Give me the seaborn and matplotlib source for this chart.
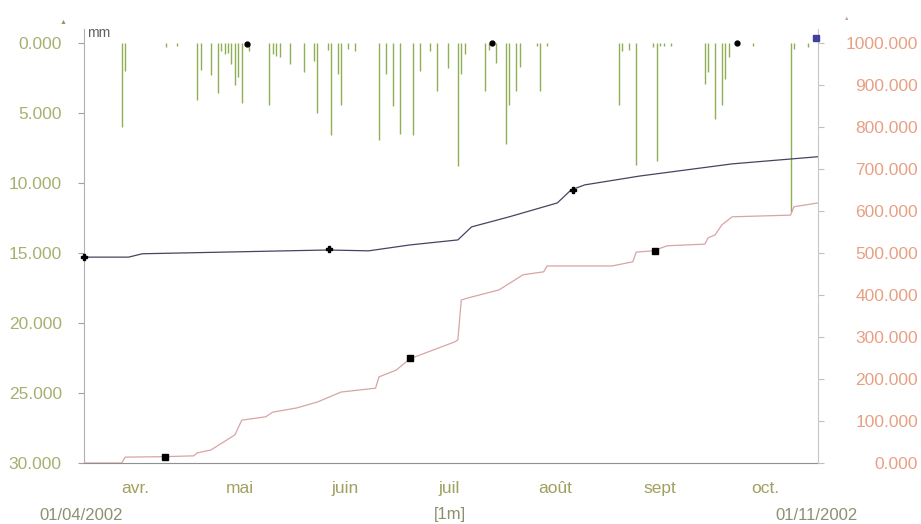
import pandas as pd
import numpy as np
import matplotlib
matplotlib.use("Agg")
import matplotlib.pyplot as plt
import matplotlib.dates as mdates
import seaborn as sns

# rain (mm), left axis, hanging from the top
rain_dates = ['2002-04-12', '2002-04-13', '2002-04-25', '2002-04-28', '2002-05-04', '2002-05-05',
              '2002-05-08', '2002-05-10', '2002-05-11', '2002-05-12', '2002-05-13', '2002-05-14',
              '2002-05-15', '2002-05-16', '2002-05-17', '2002-05-19', '2002-05-25', '2002-05-26',
              '2002-05-27', '2002-05-28', '2002-05-31', '2002-06-04', '2002-06-07', '2002-06-08',
              '2002-06-11', '2002-06-12', '2002-06-14', '2002-06-15', '2002-06-17', '2002-06-19',
              '2002-06-26', '2002-06-28', '2002-06-30', '2002-07-02', '2002-07-06', '2002-07-08',
              '2002-07-11', '2002-07-13', '2002-07-16', '2002-07-19', '2002-07-20', '2002-07-21',
              '2002-07-27', '2002-07-28', '2002-07-30', '2002-08-02', '2002-08-03', '2002-08-05',
              '2002-08-06', '2002-08-11', '2002-08-12', '2002-08-14', '2002-09-04', '2002-09-05',
              '2002-09-07', '2002-09-09', '2002-09-14', '2002-09-15', '2002-09-16', '2002-09-17',
              '2002-09-19', '2002-09-29', '2002-09-30', '2002-10-02', '2002-10-04', '2002-10-05',
              '2002-10-06', '2002-10-13', '2002-10-24', '2002-10-25', '2002-10-29']
rain_mm = [6.0, 2.0, 0.3, 0.2, 4.1, 1.9,
           2.3, 3.6, 0.6, 0.8, 0.7, 1.5,
           3.0, 2.4, 4.3, 0.6, 4.4, 0.8,
           0.9, 1.0, 1.5, 2.1, 1.3, 5.0,
           0.5, 6.6, 2.2, 4.4, 0.4, 0.6,
           6.9, 2.2, 4.5, 6.5, 6.6, 2.0,
           0.6, 3.4, 1.8, 8.8, 2.2, 0.8,
           3.4, 0.5, 1.4, 7.2, 4.4, 3.4,
           1.7, 0.2, 3.4, 0.2, 4.4, 0.6,
           0.5, 8.7, 0.3, 8.4, 0.2, 0.2,
           0.2, 2.9, 2.1, 5.4, 4.4, 2.6,
           1.0, 0.2, 12.1, 0.4, 0.3]

# first cumulative curve (right axis)
blue_dates = ['2002-04-01', '2002-04-14', '2002-04-18', '2002-06-11', '2002-06-23', '2002-07-05',
              '2002-07-19', '2002-07-23', '2002-08-03', '2002-08-17', '2002-08-21', '2002-08-25',
              '2002-09-10', '2002-10-07', '2002-11-01']
blue_vals = [490, 490, 498, 507, 505, 519, 531, 562, 586, 619, 650, 662, 683, 712, 729]

# second cumulative curve (right axis)
red_dates = ['2002-04-01', '2002-04-12', '2002-04-13', '2002-04-24', '2002-05-03', '2002-05-04',
             '2002-05-08', '2002-05-15', '2002-05-17', '2002-05-24', '2002-05-26', '2002-06-02',
             '2002-06-08', '2002-06-15', '2002-06-25', '2002-06-26', '2002-07-01', '2002-07-05',
             '2002-07-18', '2002-07-19', '2002-07-20', '2002-07-22', '2002-07-31', '2002-08-07',
             '2002-08-13', '2002-08-14', '2002-09-02', '2002-09-08', '2002-09-09', '2002-09-14',
             '2002-09-18', '2002-09-29', '2002-09-30', '2002-10-02', '2002-10-04', '2002-10-07',
             '2002-10-24', '2002-10-25', '2002-11-01']
red_vals = [0, 0, 14, 15, 17, 24, 31, 67, 102, 110, 121, 131,
            145, 169, 178, 205, 221, 248, 288, 293, 388, 393, 412, 448,
            455, 469, 469, 479, 502, 505, 517, 521, 536, 543, 567, 586,
            590, 610, 619]

# series markers
blue_mark_dates = ['2002-04-01 00:00', '2002-06-11 10:00', '2002-08-21 14:00']
blue_mark_vals = [490, 510, 650]
red_mark_dates = ['2002-04-24 14:00', '2002-07-05 00:00', '2002-09-14 12:00']
red_mark_vals = [14, 250, 505]
rain_mark_dates = ['2002-05-18 12:00', '2002-07-29 00:00', '2002-10-08 10:00']
rain_mark_vals = [0.1, 0.0, 0.0]
flag_date = ['2002-10-31 12:00']
flag_val = [1012]

month_starts = ['2002-04-01', '2002-05-01', '2002-06-01', '2002-07-01', '2002-08-01',
                '2002-09-01', '2002-10-01', '2002-11-01']
month_labels = ['avr.', 'mai', 'juin', 'juil', 'août', 'sept', 'oct.']
left_ticks = [0, 5, 10, 15, 20, 25, 30]
right_ticks = [0, 100, 200, 300, 400, 500, 600, 700, 800, 900, 1000]

sns.set_style("white")
plt.rcParams['font.family'] = ['Liberation Sans', 'DejaVu Sans']

fig = plt.figure(figsize=(9.21, 5.24), dpi=100)
ax = fig.add_axes([84 / 921, 61 / 524, 734 / 921, 434 / 524])
ax2 = ax.twinx()

rain = pd.DataFrame({'date': pd.to_datetime(rain_dates), 'mm': rain_mm})
blue = pd.DataFrame({'date': pd.to_datetime(blue_dates), 'val': blue_vals})
red = pd.DataFrame({'date': pd.to_datetime(red_dates), 'val': red_vals})
fmt = '%Y-%m-%d %H:%M'

ax.vlines(rain['date'], 0, rain['mm'], color='#8fae55', lw=1.0)
ax.plot(pd.to_datetime(rain_mark_dates, format=fmt), rain_mark_vals, 'o', color='black', ms=3.5, clip_on=False)

sns.lineplot(data=red, x='date', y='val', ax=ax2, color='#d9a4a4', lw=0.9, sort=False)
sns.lineplot(data=blue, x='date', y='val', ax=ax2, color='#454560', lw=0.9, sort=False)
ax2.plot(pd.to_datetime(blue_mark_dates, format=fmt), blue_mark_vals, 'P', color='black', ms=5, clip_on=False)
ax2.plot(pd.to_datetime(red_mark_dates, format=fmt), red_mark_vals, 's', color='black', ms=4.5, clip_on=False)
ax2.plot(pd.to_datetime(flag_date, format=fmt), flag_val, 's', color='#4040a0', ms=5, clip_on=False, zorder=5)

starts = pd.to_datetime(month_starts)
ax.set_xlim(starts[0], starts[-1])
ax.set_ylim(30, -1.0)
ax2.set_ylim(0, 1033)

ax.set_yticks(left_ticks)
ax.set_yticklabels([f"{v:.3f}" for v in left_ticks], color='#a8b070', fontsize=12.5)
ax2.set_yticks(right_ticks)
ax2.set_yticklabels([f"{v:.3f}" for v in right_ticks], color='#e8a084', fontsize=12.5)
for lab in ax2.get_yticklabels():
    lab.set_horizontalalignment('right')

nums = mdates.date2num(starts)
mids = (nums[:-1] + nums[1:]) / 2
ax.set_xticks(nums)
ax.set_xticklabels([''] * len(nums))
ax.set_xticks(mids, minor=True)
ax.set_xticklabels(month_labels, minor=True, color='#a0a060', fontsize=12.5)

ax.tick_params(axis='x', which='major', direction='out', length=9, color='#a0a0a0', width=0.8)
ax.tick_params(axis='x', which='minor', length=0, pad=13)
ax.tick_params(axis='y', direction='out', length=4, color='#a0a0a0', pad=12, left=True)
ax2.tick_params(axis='y', direction='out', length=4, color='#c0c0c0', pad=68, right=True)

for a in (ax, ax2):
    a.set_xlabel('')
    a.set_ylabel('')
    a.spines['top'].set_visible(False)
    a.grid(False)
ax.spines['left'].set_color('#b0b0b0')
ax.spines['bottom'].set_color('#909090')
ax.spines['right'].set_visible(False)
ax2.spines['left'].set_visible(False)
ax2.spines['bottom'].set_visible(False)
ax2.spines['right'].set_color('#c8c8c8')

fig.text(87 / 921, 1 - 33 / 524, 'mm', fontsize=10, color='#606060', va='center', ha='left')
fig.text(63 / 921, 1 - 22 / 524, '▲', fontsize=5, color='#8a9a60', ha='center', va='center')
fig.text(847 / 921, 1 - 18 / 524, '▲', fontsize=4, color='#c0a0a0', ha='center', va='center')
fig.text(81 / 921, 1 - 515 / 524, '01/04/2002', fontsize=12, color='#8c9070', ha='center', va='center')
fig.text(450 / 921, 1 - 515 / 524, '[1m]', fontsize=12, color='#8c9070', ha='center', va='center')
fig.text(817 / 921, 1 - 515 / 524, '01/11/2002', fontsize=12, color='#8c9070', ha='center', va='center')

fig.savefig('out.png', dpi=100, facecolor='white')
